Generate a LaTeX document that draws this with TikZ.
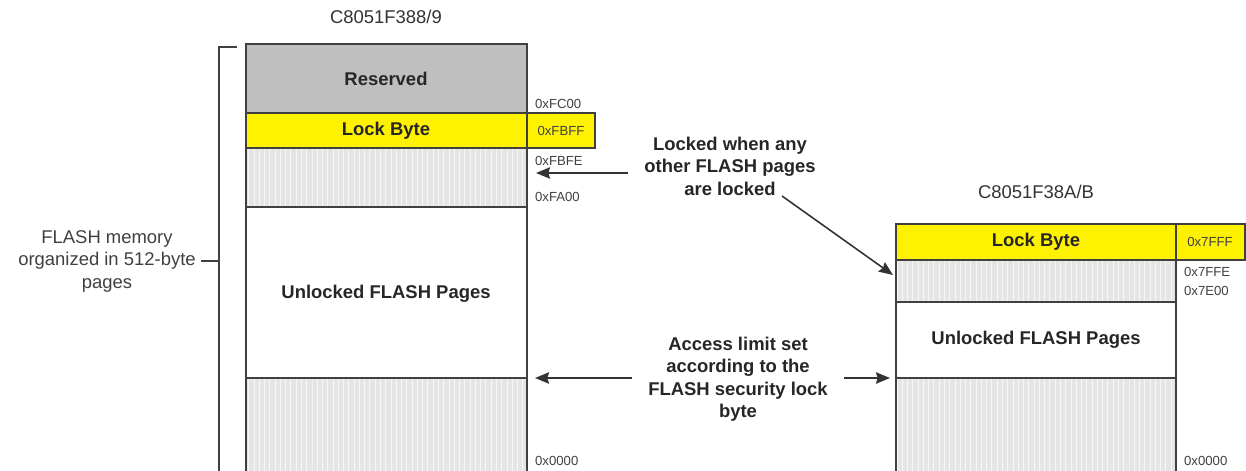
\documentclass[tikz,border=0pt]{standalone}
\usepackage{fontspec}
\setmainfont{Liberation Sans}
\usetikzlibrary{arrows.meta, patterns}

\begin{document}
\begin{tikzpicture}[x=0.02cm, y=-0.02cm, >={Stealth[length=8pt,width=6.5pt,inset=1pt]},
    edge/.style={draw=black!75, line width=1pt},
    pagefill/.style={fill=black!10, postaction={pattern=vertical lines, pattern color=black!3}},
    resfill/.style={fill=black!25},
    lockfill/.style={fill=yellow, draw=black!75, line width=1pt},
    lbl/.style={font=\fontsize{10.5}{12.8}\selectfont\bfseries, text=black!85},
    title/.style={font=\fontsize{10.5}{12.8}\selectfont, text=black!80},
    side/.style={font=\fontsize{10.5}{12.8}\selectfont, align=center, inner xsep=3pt, text=black!75},
    addr/.style={font=\fontsize{7.5}{9}\selectfont, text=black!75, inner sep=1pt},
    note/.style={font=\fontsize{10.5}{12.8}\selectfont\bfseries, align=center, inner xsep=9pt, text=black!85},
    arr/.style={->, line width=0.9pt, draw=black!80}]

    \useasboundingbox (0,0) rectangle (1246,470);
    \clip (0,0) rectangle (1246,470);

    % 1. C8051F388/9
    \node[title] (titleA) at (386,17) {C8051F388/9};
    \fill[resfill] (246,44) rectangle (527,113);
    \fill[pagefill] (246,148) rectangle (527,207);
    \fill[pagefill] (246,378) rectangle (527,480);
    \draw[lockfill] (246,113) rectangle (595,148);
    % outline and page borders
    \draw[edge] (246,480) -- (246,44) -- (527,44) -- (527,480);
    \draw[edge] (246,207) -- (527,207);
    \draw[edge] (246,378) -- (527,378);
    \node[lbl] (resA) at (386,79) {Reserved};
    \node[lbl] (lockA) at (386,131) {Lock Byte};
    \node[lbl] (freeA) at (386,294) {Unlocked FLASH Pages};
    \node[addr] (aFBFF) at (561,131) {0xFBFF};
    \node[addr, anchor=west] (aFC00) at (533,104) {0xFC00};
    \node[addr, anchor=west] (aFBFE) at (533,161) {0xFBFE};
    \node[addr, anchor=west] (aFA00) at (533,197) {0xFA00};
    \node[addr, anchor=west] (aZeroA) at (533,461) {0x0000};

    % bracket for the 512-byte pages
    \coordinate (brk) at (219,261);
    \draw[edge, line width=0.8pt] (237,47) -- (219,47) -- (219,480);
    \node[side] (flashmem) at (107,261) {FLASH memory\\organized in 512-byte\\pages};
    \draw[line width=0.8pt, black!75] (flashmem.east) -- (brk);

    % 2. C8051F38A/B
    \node[title] (titleB) at (1036,192) {C8051F38A/B};
    \fill[pagefill] (896,260) rectangle (1176,302);
    \fill[pagefill] (896,378) rectangle (1176,480);
    \draw[lockfill] (896,224) rectangle (1245,260);
    \draw[edge] (896,480) -- (896,224);
    \draw[edge] (1176,224) -- (1176,480);
    \draw[edge] (896,302) -- (1176,302);
    \draw[edge] (896,378) -- (1176,378);
    \node[lbl] (lockB) at (1036,242) {Lock Byte};
    \node[lbl] (freeB) at (1036,340) {Unlocked FLASH Pages};
    \node[addr] (a7FFF) at (1210,242) {0x7FFF};
    \node[addr, anchor=west] (a7FFE) at (1182,272) {0x7FFE};
    \node[addr, anchor=west] (a7E00) at (1182,291) {0x7E00};
    \node[addr, anchor=west] (aZeroB) at (1182,461) {0x0000};

    % 3. notes and arrows
    \node[note] (locked) at (730,166) {Locked when any\\other FLASH pages\\are locked};
    \node[note] (access) at (738,379) {Access limit set\\according to the\\FLASH security lock\\byte};
    \coordinate (tipA) at (536,173);
    \coordinate (fromB) at (782,196);
    \coordinate (tipB) at (893,275);
    \coordinate (tipC) at (535,378);
    \coordinate (tipD) at (890,378);
    \draw[arr] (locked.west |- tipA) -- (tipA);
    \draw[arr] (fromB) -- (tipB);
    \draw[arr] (access.west |- tipC) -- (tipC);
    \draw[arr] (access.east |- tipD) -- (tipD);

\end{tikzpicture}
\end{document}
